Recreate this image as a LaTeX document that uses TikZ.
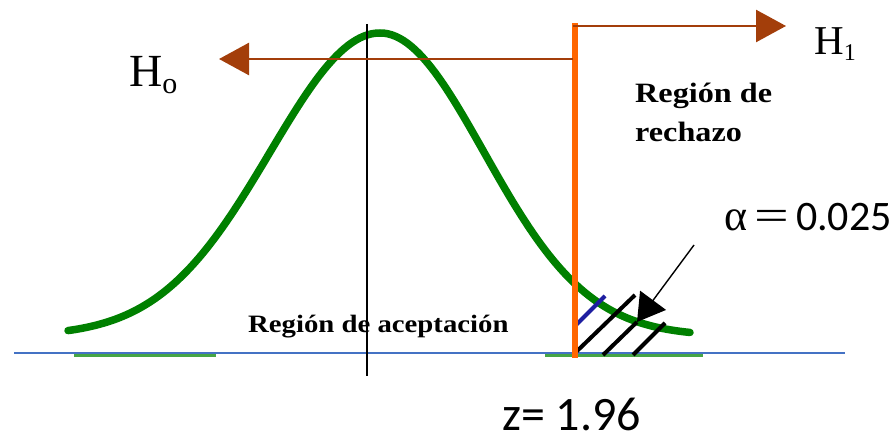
\documentclass[tikz,border=0pt]{standalone}
\usepackage{fontspec}
\usepackage{graphicx}
\setmainfont{Liberation Serif}
\newfontfamily\lblbold[FakeStretch=1.15]{Liberation Serif}
\newfontfamily\calib{Carlito}
\usetikzlibrary{arrows.meta}
\definecolor{hbrown}{RGB}{163,62,10}
\definecolor{zorange}{RGB}{255,102,0}
\definecolor{curvegreen}{RGB}{0,128,0}
\definecolor{basegreen}{RGB}{70,165,70}
\definecolor{baseblue}{RGB}{68,114,196}
\definecolor{hatchblue}{RGB}{30,30,160}
\tikzset{
  hyparrow/.style={draw=hbrown, line width=2.6pt, -{Triangle[length=30pt,width=32pt]}},
  hatchline/.style={line width=4pt, black},
  bell/.style={draw=curvegreen, line width=7.5pt, line cap=round, line join=round},
  lbl/.style={inner sep=0pt, anchor=base west}
}
\begin{document}
\begin{tikzpicture}[x=1pt,y=-1pt]
\useasboundingbox (0,0) rectangle (894,441);
% baseline
\draw[baseblue, line width=1.4pt] (14,353) -- (845,353);
\draw[basegreen, line width=2.4pt] (74,355.5) -- (216,355.5);
\draw[basegreen, line width=2.4pt] (545,355.5) -- (703,355.5);
% bell curve
\draw[bell] plot[domain=68:380,samples=80] (\x,{336-303*exp(-0.5*((\x-380)/110)^2)})
  -- plot[domain=380:690,samples=80] (\x,{336-303*exp(-0.5*((\x-380)/104)^2)});
% hatching
\draw[hatchline] (575,353) -- (635,295);
\draw[hatchline] (603,355) -- (637,322);
\draw[hatchline] (633,355) -- (665,323);
\draw[hatchblue, line width=4pt] (576,325) -- (605,296);
% alpha pointer
\coordinate (pstart) at (694,245);
\coordinate (ptip) at (637,322);
\draw[black, line width=1.4pt, -{Triangle[length=27pt,width=32pt]}] (pstart) -- (ptip);
% mean line
\draw[black, line width=2pt] (367,24) -- (367,376);
% critical line
\coordinate (ctop) at (575,23);
\coordinate (cbot) at (575,358);
\draw[zorange, line width=6pt] (ctop) -- (cbot);
% hypothesis arrows
\coordinate (h1s) at (573,26);
\coordinate (h1e) at (786,26);
\coordinate (h0s) at (573,59);
\coordinate (h0e) at (219,59);
\draw[hyparrow] (h1s) -- (h1e);
\draw[hyparrow] (h0s) -- (h0e);
% labels
\node[lbl] (H0) at (129,87) {\fontsize{46}{46}\selectfont H\raisebox{-7pt}{\fontsize{30}{30}\selectfont o}};
\node[lbl] (H1) at (814,55) {\fontsize{41}{41}\selectfont H\raisebox{-6pt}{\fontsize{24}{24}\selectfont 1}};
\node[lbl] (rech1) at (635,103) {\lblbold\bfseries\fontsize{28}{28}\selectfont Región de};
\node[lbl] (rech2) at (635,142) {\lblbold\bfseries\fontsize{28}{28}\selectfont rechazo};
\node[lbl] (acep) at (248,332) {\lblbold\bfseries\fontsize{25}{25}\selectfont Región de aceptación};
\draw[black, line width=2pt] (367,300) -- (367,340);
\node[lbl] (alpha) at (724,230) {\fontsize{44}{44}\selectfont α\kern7pt\scalebox{1.4}[1]{=}\kern7pt\calib\fontsize{42}{42}\selectfont 0.025};
\node[lbl] (zval) at (502,430) {\calib\fontsize{48}{48}\selectfont z= 1.96};
\end{tikzpicture}
\end{document}
